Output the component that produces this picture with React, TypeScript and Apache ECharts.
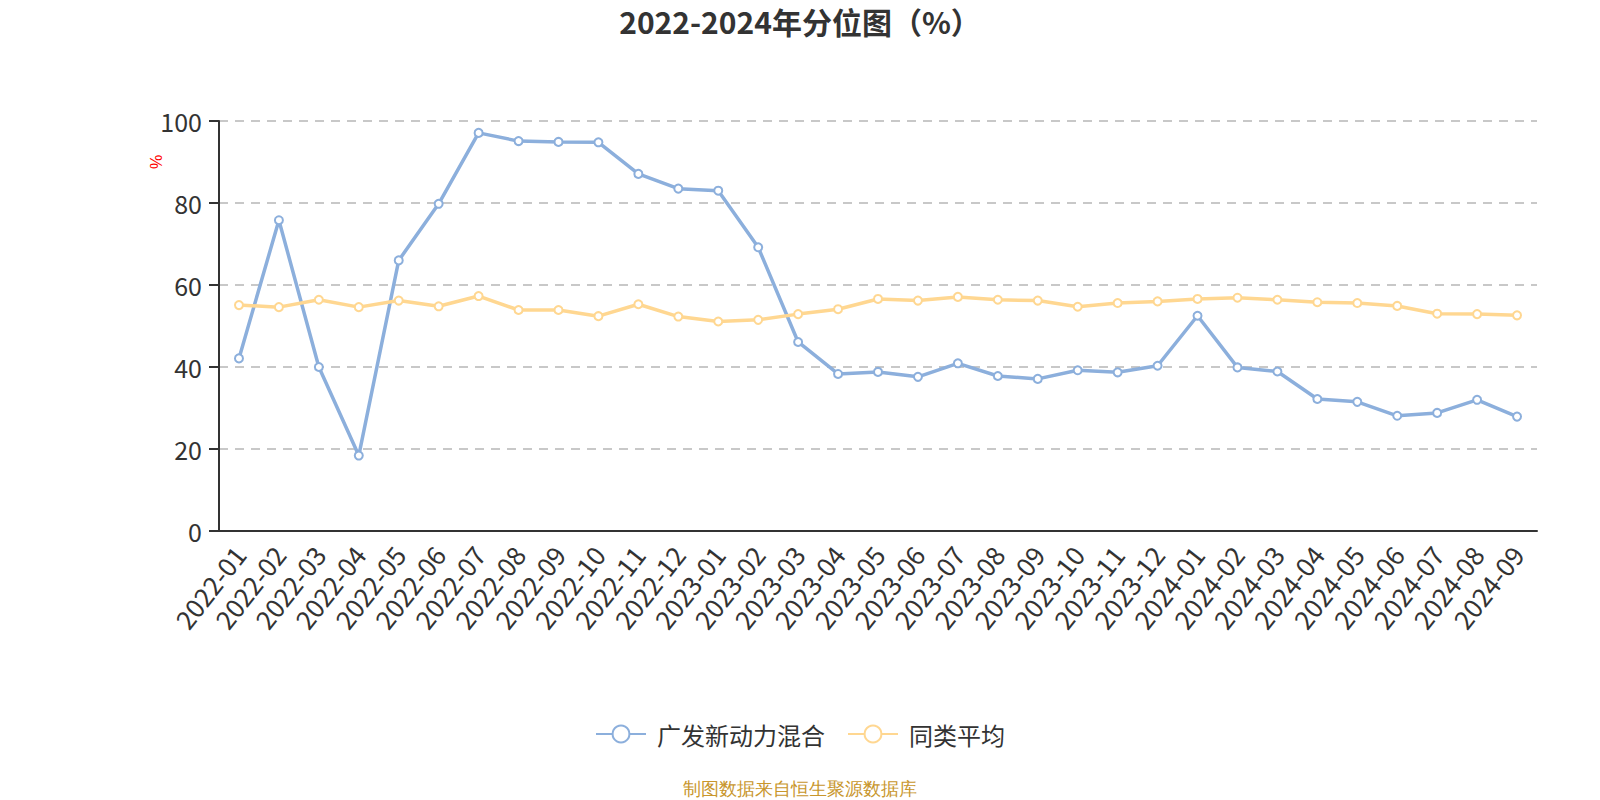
import * as echarts from "echarts";
import { useEffect, useRef } from "react";

const categories = [
  "2022-01", "2022-02", "2022-03", "2022-04", "2022-05", "2022-06",
  "2022-07", "2022-08", "2022-09", "2022-10", "2022-11", "2022-12",
  "2023-01", "2023-02", "2023-03", "2023-04", "2023-05", "2023-06",
  "2023-07", "2023-08", "2023-09", "2023-10", "2023-11", "2023-12",
  "2024-01", "2024-02", "2024-03", "2024-04", "2024-05", "2024-06",
  "2024-07", "2024-08", "2024-09",
];

const fundValues = [
  42.1, 75.8, 40.0, 18.4, 66.0, 79.8, 97.1, 95.1, 94.9, 94.8, 87.1, 83.5,
  83.0, 69.2, 46.1, 38.3, 38.8, 37.6, 40.9, 37.8, 37.1, 39.2, 38.7, 40.3,
  52.5, 39.9, 38.9, 32.2, 31.5, 28.1, 28.8, 32.0, 27.9,
];

const peerAverage = [
  55.1, 54.6, 56.4, 54.6, 56.2, 54.8, 57.3, 53.9, 53.9, 52.4, 55.3, 52.3,
  51.1, 51.5, 52.9, 54.1, 56.6, 56.2, 57.1, 56.4, 56.2, 54.7, 55.6, 56.0,
  56.6, 56.9, 56.4, 55.8, 55.6, 54.9, 53.0, 52.9, 52.6,
];

const seriesNames = ["广发新动力混合", "同类平均"];
const seriesColors = ["#8cafdc", "#ffd791"];

export default function App() {
  const chartRef = useRef<HTMLDivElement | null>(null);

  useEffect(() => {
    const el = chartRef.current;
    if (!el) return;
    const chart = echarts.init(el, undefined, { renderer: "svg" });

    const option: echarts.EChartsOption = {
      animation: false,
      textStyle: { fontFamily: "'Noto Sans CJK SC', 'Noto Sans', sans-serif" },
      title: {
        text: "2022-2024年分位图（%）",
        left: "center",
        top: 6,
        padding: 0,
        textStyle: { fontSize: 30, fontWeight: "bold", color: "#333" },
      },
      grid: { left: 219, right: 63, top: 121, bottom: 269 },
      legend: {
        top: 717,
        left: "center",
        itemWidth: 50,
        itemHeight: 21,
        itemGap: 22,
        textStyle: { fontSize: 24, color: "#333", padding: [0, 0, 0, 6] },
        data: seriesNames,
      },
      xAxis: {
        type: "category",
        data: categories,
        axisLine: { lineStyle: { color: "#333", width: 2 } },
        axisTick: { lineStyle: { color: "#333", width: 2 }, length: 7 },
        axisLabel: { rotate: 52, fontSize: 26, color: "#333", interval: 0, margin: 18 },
      },
      yAxis: {
        type: "value",
        min: 0,
        max: 100,
        interval: 20,
        axisLine: { show: true, lineStyle: { color: "#333", width: 2 } },
        axisTick: { show: true, lineStyle: { color: "#333", width: 2 }, length: 10 },
        axisLabel: { fontSize: 25, color: "#333", margin: 17 },
        splitLine: { lineStyle: { type: [9, 7], color: "#c8c8c8", width: 2 } },
      },
      graphic: [
        {
          type: "text",
          x: 156,
          y: 162,
          rotation: Math.PI / 2,
          style: {
            text: "%",
            fontSize: 16,
            fill: "#ff0000",
            align: "center",
            verticalAlign: "middle",
          },
        },
        {
          type: "text",
          left: "center",
          top: 780,
          style: { text: "制图数据来自恒生聚源数据库", fontSize: 18, fill: "#c8962c" },
        },
      ],
      series: [
        {
          name: seriesNames[0],
          type: "line",
          data: fundValues,
          symbol: "emptyCircle",
          symbolSize: 8,
          lineStyle: { width: 3.5, color: seriesColors[0] },
          itemStyle: { color: seriesColors[0], borderWidth: 2 },
        },
        {
          name: seriesNames[1],
          type: "line",
          data: peerAverage,
          symbol: "emptyCircle",
          symbolSize: 8,
          lineStyle: { width: 3.5, color: seriesColors[1] },
          itemStyle: { color: seriesColors[1], borderWidth: 2 },
        },
      ],
    };

    chart.setOption(option);
    return () => {
      if (!chart.isDisposed()) chart.dispose();
    };
  }, []);

  return (
    <div
      ref={chartRef}
      style={{ position: "absolute", left: 0, top: 0, width: 1600, height: 800 }}
    />
  );
}
